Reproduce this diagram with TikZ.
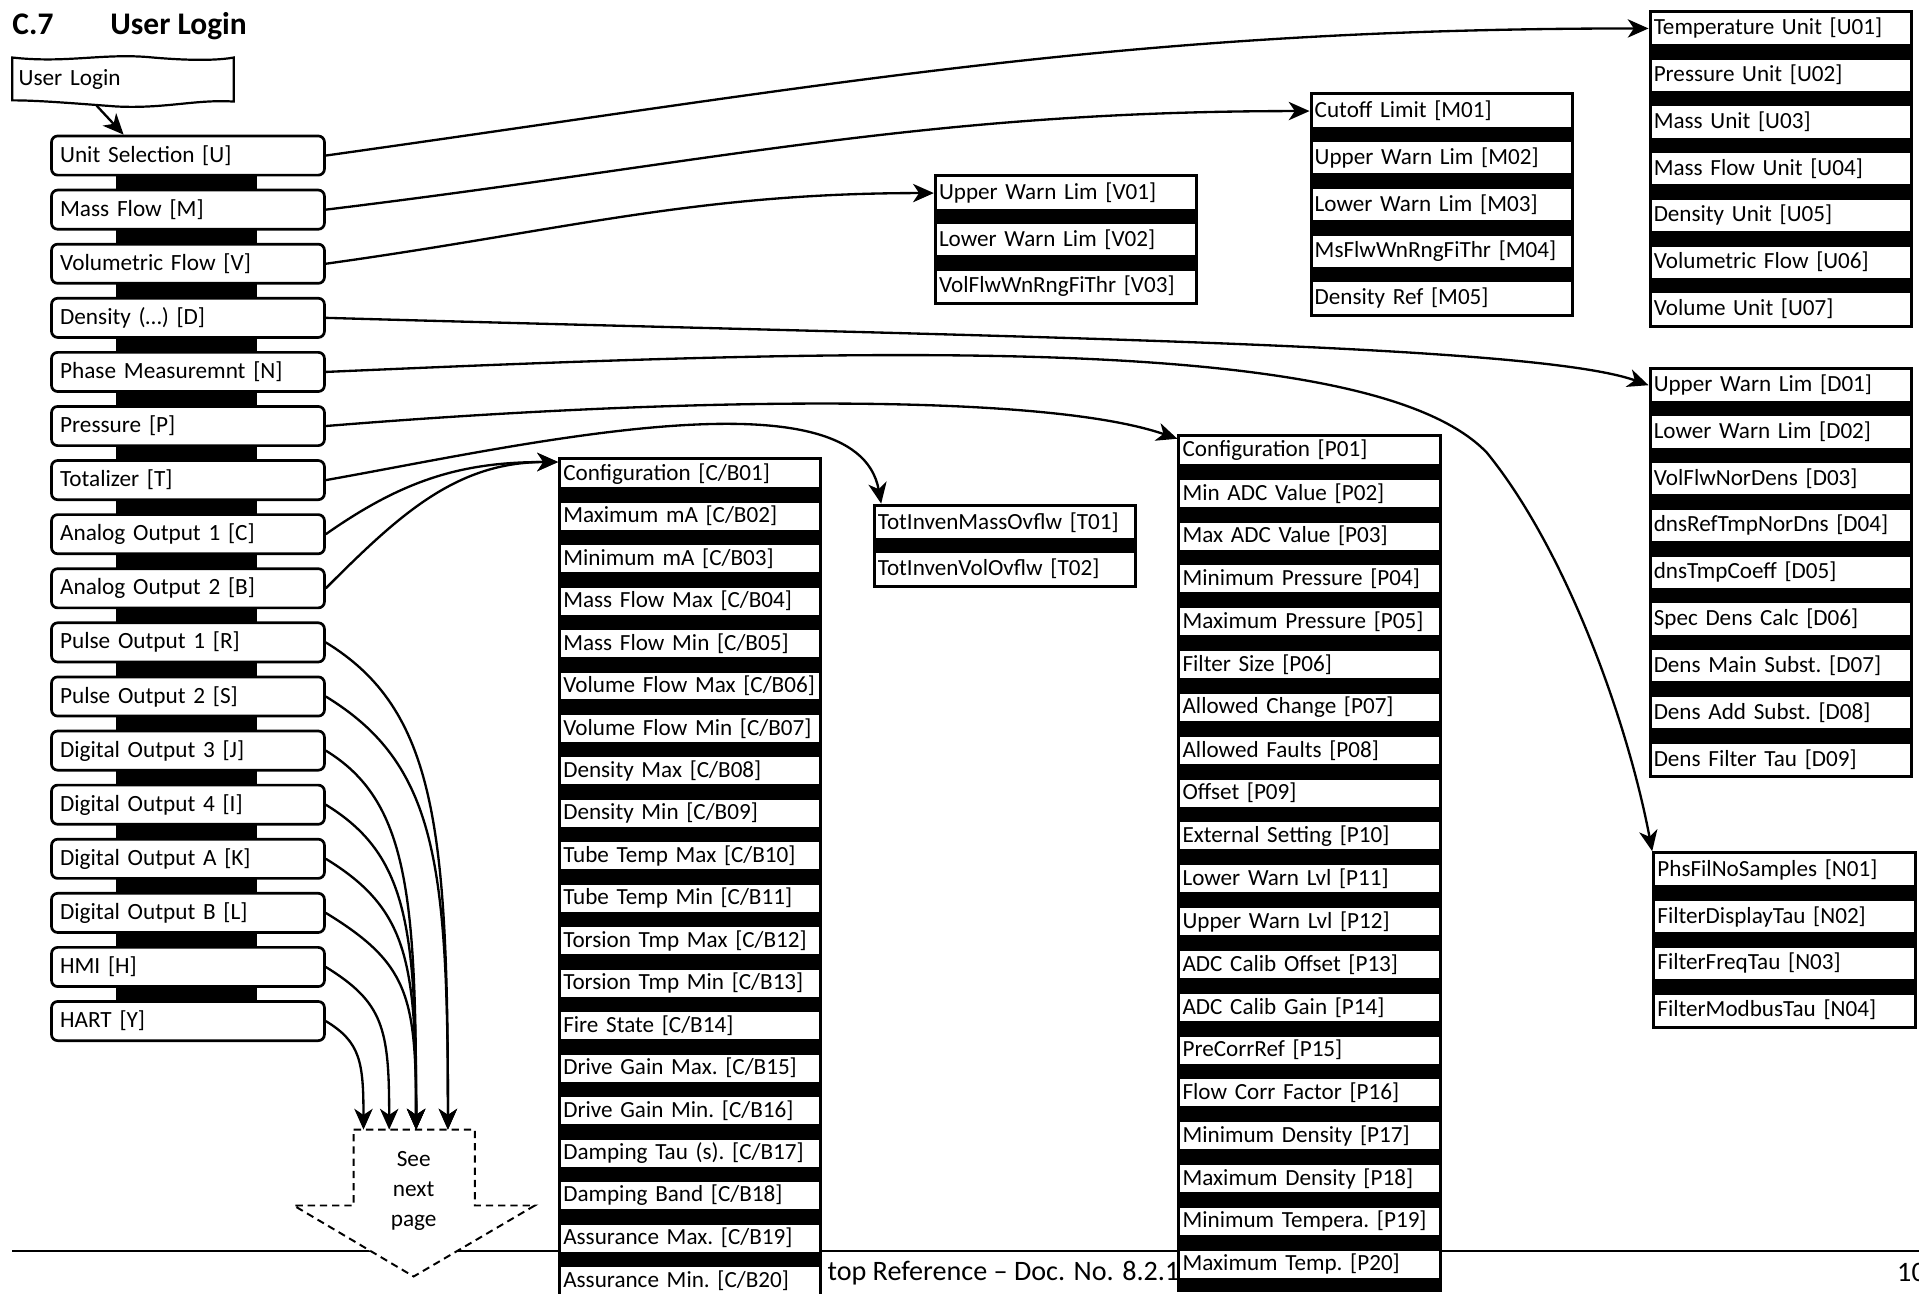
\documentclass[tikz,border=0pt]{standalone}
\usepackage{fontspec}
\setmainfont{Carlito}
\usetikzlibrary{arrows.meta,positioning,calc,fit,backgrounds}
\tikzset{
  menu/.style={draw, line width=2.2pt, rounded corners=5pt, fill=white, align=left,
               text width=209pt, inner xsep=7pt, inner ysep=0pt, minimum height=32pt,
               font=\fontsize{19}{23}\selectfont\frenchspacing},
  param/.style={draw, line width=2.5pt, fill=white, align=left,
                text width=207.5pt, inner xsep=3pt, inner ysep=0pt, minimum height=28pt,
                font=\fontsize{18.9}{23}\selectfont\frenchspacing},
  slim/.style={param, minimum height=24.5pt},
  stack/.style={fill=black, inner sep=0pt},
  link/.style={-{Stealth[length=17pt,width=15pt,inset=5pt]}, line width=1.9pt},
  dropbox/.style={draw, dash pattern=on 6pt off 4pt, line width=1.6pt, fill=white},
  caption/.style={font=\fontsize{25.7}{30}\selectfont\bfseries, anchor=base west, inner sep=0pt},
  footer/.style={font=\fontsize{23}{27}\selectfont, anchor=west, inner sep=0pt},
}

\begin{document}
\begin{tikzpicture}[x=1pt, y=1pt, node distance=7.7pt]
    \useasboundingbox (0,0) rectangle (1568,-1057);

    % heading
    \node[caption] (secno) at (10,-28.5) {C.7};
    \node[caption] (sectitle) at (90,-28.5) {User Login};

    % page foot
    \draw[line width=1.5pt] (10,-1022) -- (1568,-1022);
    \node[footer] (doc) at (676,-1040) {top Reference – Doc. No. 8.2.1};
    \node[footer] (pageno) at (1550,-1040) {10};

    % continuation marker
    \draw[dropbox] (289,-923) -- (388,-923) -- (388,-985) -- (437,-985) -- (338,-1043)
      -- (240,-985) -- (289,-985) -- cycle;
    \node[align=center, font=\fontsize{19}{24.5}\selectfont] (seenext) at (338,-973) {See\\next\\page};
    \coordinate (drop1) at (297,-923);
    \coordinate (drop2) at (318,-923);
    \coordinate (drop3) at (340,-923);
    \coordinate (drop4) at (366,-923);

    % entry
    \node[anchor=north west, minimum width=181pt, minimum height=36pt, text width=171pt,
      inner xsep=5pt, align=left, font=\fontsize{19}{23}\selectfont] (login) at (10,-47) {User Login};
    \draw[line width=1.8pt, shift={(login.north west)}] (0,0) .. controls (45,-5) and (75,4) .. (115,0)
      .. controls (150,-3) and (170,-2) .. (181,0) -- (181,-36) .. controls (150,-34) and (125,-42) .. (85,-40)
      .. controls (45,-37) and (20,-35) .. (0,-35) -- cycle;

    % menu column
    \node[menu, anchor=north west] (unit) at (41,-110) {Unit Selection [U]};
    \node[menu, below=10pt of unit] (mass) {Mass Flow [M]};
    \node[menu, below=10pt of mass] (vol) {Volumetric Flow [V]};
    \node[menu, below=10pt of vol] (dens) {Density (…) [D]};
    \node[menu, below=10pt of dens] (phase) {Phase Measuremnt [N]};
    \node[menu, below=10pt of phase] (press) {Pressure [P]};
    \node[menu, below=10pt of press] (total) {Totalizer [T]};
    \node[menu, below=10pt of total] (aout1) {Analog Output 1 [C]};
    \node[menu, below=10pt of aout1] (aout2) {Analog Output 2 [B]};
    \node[menu, below=10pt of aout2] (pout1) {Pulse Output 1 [R]};
    \node[menu, below=10pt of pout1] (pout2) {Pulse Output 2 [S]};
    \node[menu, below=10pt of pout2] (dout3) {Digital Output 3 [J]};
    \node[menu, below=10pt of dout3] (dout4) {Digital Output 4 [I]};
    \node[menu, below=10pt of dout4] (douta) {Digital Output A [K]};
    \node[menu, below=10pt of douta] (doutb) {Digital Output B [L]};
    \node[menu, below=10pt of doutb] (hmi) {HMI [H]};
    \node[menu, below=10pt of hmi] (hart) {HART [Y]};

    % units
    \node[param, anchor=north west] (u1) at (1347,-8) {Temperature Unit [U01]};
    \node[param, below=of u1] (u2) {Pressure Unit [U02]};
    \node[param, below=of u2] (u3) {Mass Unit [U03]};
    \node[param, below=of u3] (u4) {Mass Flow Unit [U04]};
    \node[param, below=of u4] (u5) {Density Unit [U05]};
    \node[param, below=of u5] (u6) {Volumetric Flow [U06]};
    \node[param, below=of u6] (u7) {Volume Unit [U07]};

    % mass flow
    \node[param, anchor=north west] (m1) at (1070,-75.5) {Cutoff Limit [M01]};
    \node[param, below=of m1] (m2) {Upper Warn Lim [M02]};
    \node[param, below=of m2] (m3) {Lower Warn Lim [M03]};
    \node[param, below=of m3] (m4) {MsFlwWnRngFiThr [M04]};
    \node[param, below=of m4] (m5) {Density Ref [M05]};

    % volumetric flow
    \node[param, anchor=north west] (v1) at (763,-142.5) {Upper Warn Lim [V01]};
    \node[param, below=of v1] (v2) {Lower Warn Lim [V02]};
    \node[param, below=of v2] (v3) {VolFlwWnRngFiThr [V03]};

    % density
    \node[param, anchor=north west] (d1) at (1347,-299.5) {Upper Warn Lim [D01]};
    \node[param, below=of d1] (d2) {Lower Warn Lim [D02]};
    \node[param, below=of d2] (d3) {VolFlwNorDens [D03]};
    \node[param, below=of d3] (d4) {dnsRefTmpNorDns [D04]};
    \node[param, below=of d4] (d5) {dnsTmpCoeff [D05]};
    \node[param, below=of d5] (d6) {Spec Dens Calc [D06]};
    \node[param, below=of d6] (d7) {Dens Main Subst. [D07]};
    \node[param, below=of d7] (d8) {Dens Add Subst. [D08]};
    \node[param, below=of d8] (d9) {Dens Filter Tau [D09]};

    % phase
    \node[param, anchor=north west] (n1) at (1350,-695.5) {PhsFilNoSamples [N01]};
    \node[param, below=of n1] (n2) {FilterDisplayTau [N02]};
    \node[param, below=of n2] (n3) {FilterFreqTau [N03]};
    \node[param, below=of n3] (n4) {FilterModbusTau [N04]};

    % totalizer
    \node[param, anchor=north west] (t1) at (713,-411.5) {TotInvenMassOvflw [T01]};
    \node[param, below=of t1] (t2) {TotInvenVolOvflw [T02]};

    % analog outputs
    \node[slim, anchor=north west] (cb1) at (456,-373.5) {Configuration [C/B01]};
    \node[slim, below=of cb1] (cb2) {Maximum mA [C/B02]};
    \node[slim, below=of cb2] (cb3) {Minimum mA [C/B03]};
    \node[slim, below=of cb3] (cb4) {Mass Flow Max [C/B04]};
    \node[slim, below=of cb4] (cb5) {Mass Flow Min [C/B05]};
    \node[slim, below=of cb5] (cb6) {Volume Flow Max [C/B06]};
    \node[slim, below=of cb6] (cb7) {Volume Flow Min [C/B07]};
    \node[slim, below=of cb7] (cb8) {Density Max [C/B08]};
    \node[slim, below=of cb8] (cb9) {Density Min [C/B09]};
    \node[slim, below=of cb9] (cb10) {Tube Temp Max [C/B10]};
    \node[slim, below=of cb10] (cb11) {Tube Temp Min [C/B11]};
    \node[slim, below=of cb11] (cb12) {Torsion Tmp Max [C/B12]};
    \node[slim, below=of cb12] (cb13) {Torsion Tmp Min [C/B13]};
    \node[slim, below=of cb13] (cb14) {Fire State [C/B14]};
    \node[slim, below=of cb14] (cb15) {Drive Gain Max. [C/B15]};
    \node[slim, below=of cb15] (cb16) {Drive Gain Min. [C/B16]};
    \node[slim, below=of cb16] (cb17) {Damping Tau (s). [C/B17]};
    \node[slim, below=of cb17] (cb18) {Damping Band [C/B18]};
    \node[slim, below=of cb18] (cb19) {Assurance Max. [C/B19]};
    \node[slim, below=of cb19] (cb20) {Assurance Min. [C/B20]};

    % pressure
    \node[slim, anchor=north west] (p1) at (962,-354.5) {Configuration [P01]};
    \node[slim, below=8pt of p1] (p2) {Min ADC Value [P02]};
    \node[slim, below=8pt of p2] (p3) {Max ADC Value [P03]};
    \node[slim, below=8pt of p3] (p4) {Minimum Pressure [P04]};
    \node[slim, below=8pt of p4] (p5) {Maximum Pressure [P05]};
    \node[slim, below=8pt of p5] (p6) {Filter Size [P06]};
    \node[slim, below=8pt of p6] (p7) {Allowed Change [P07]};
    \node[slim, below=8pt of p7] (p8) {Allowed Faults [P08]};
    \node[slim, below=8pt of p8] (p9) {Offset [P09]};
    \node[slim, below=8pt of p9] (p10) {External Setting [P10]};
    \node[slim, below=8pt of p10] (p11) {Lower Warn Lvl [P11]};
    \node[slim, below=8pt of p11] (p12) {Upper Warn Lvl [P12]};
    \node[slim, below=8pt of p12] (p13) {ADC Calib Offset [P13]};
    \node[slim, below=8pt of p13] (p14) {ADC Calib Gain [P14]};
    \node[slim, below=8pt of p14] (p15) {PreCorrRef [P15]};
    \node[slim, below=8pt of p15] (p16) {Flow Corr Factor [P16]};
    \node[slim, below=8pt of p16] (p17) {Minimum Density [P17]};
    \node[slim, below=8pt of p17] (p18) {Maximum Density [P18]};
    \node[slim, below=8pt of p18] (p19) {Minimum Tempera. [P19]};
    \node[slim, below=8pt of p19] (p20) {Maximum Temp. [P20]};
    \coordinate (pfoot) at ([yshift=-9pt]p20.south);

    % connectors
    \draw[link] ([xshift=69pt,yshift=-3pt]login.south west) -- ([xshift=60pt]unit.north west);
    \draw[link] (unit.east) .. controls +(420,59) and +(-425,0) .. (u1.west);
    \draw[link] (mass.east) .. controls +(313,38) and +(-316,0) .. (m1.west);
    \draw[link] (vol.east) .. controls +(194,27) and +(-196,0) .. (v1.west);
    \draw[link] (dens.east) .. controls (800,-275) and (1250,-280) .. (d1.west);
    \draw[link] (phase.east) .. controls (700,-285) and (1120,-270) .. (1215,-370)
      .. controls (1280,-450) and (1330,-590) .. (n1.north west);
    \draw[link] (press.east) .. controls (550,-325) and (850,-320) .. ([yshift=-4pt]p1.north west);
    \draw[link] (total.east) .. controls (420,-365) and (700,-300) .. ([xshift=7pt]t1.north west);
    \draw[link] (aout1.east) .. controls +(64,45) and +(-78,0) .. ([yshift=-4pt]cb1.north west);
    \draw[link] (aout2.east) .. controls +(59,59) and +(-84,0) .. ([yshift=-4pt]cb1.north west);
    \foreach \src/\dst/\a/\b/\c in {pout1/drop4/90/55/247, pout2/drop4/90/55/219,
        dout3/drop3/67/41/193, dout4/drop3/67/41/166, douta/drop3/67/41/138,
        doutb/drop3/67/41/110, hmi/drop2/47/29/83, hart/drop1/28/17/56}
      \draw[link] (\src.east) .. controls +(\a,-\b) and +(0,\c) .. (\dst);

    \begin{scope}[on background layer]
      \fill[white] (0,0) rectangle (1568,-1057);
      \fill ([xshift=54pt]unit.south west) rectangle ([xshift=-56pt]hart.north east);
      \node[stack, fit=(u1)(u7)] (ustack) {};
      \node[stack, fit=(m1)(m5)] (mstack) {};
      \node[stack, fit=(v1)(v3)] (vstack) {};
      \node[stack, fit=(d1)(d9)] (dstack) {};
      \node[stack, fit=(n1)(n4)] (nstack) {};
      \node[stack, fit=(t1)(t2)] (tstack) {};
      \node[stack, fit=(cb1)(cb20)] (cbstack) {};
      \node[stack, fit=(p1)(pfoot)] (pstack) {};
    \end{scope}
\end{tikzpicture}
\end{document}
